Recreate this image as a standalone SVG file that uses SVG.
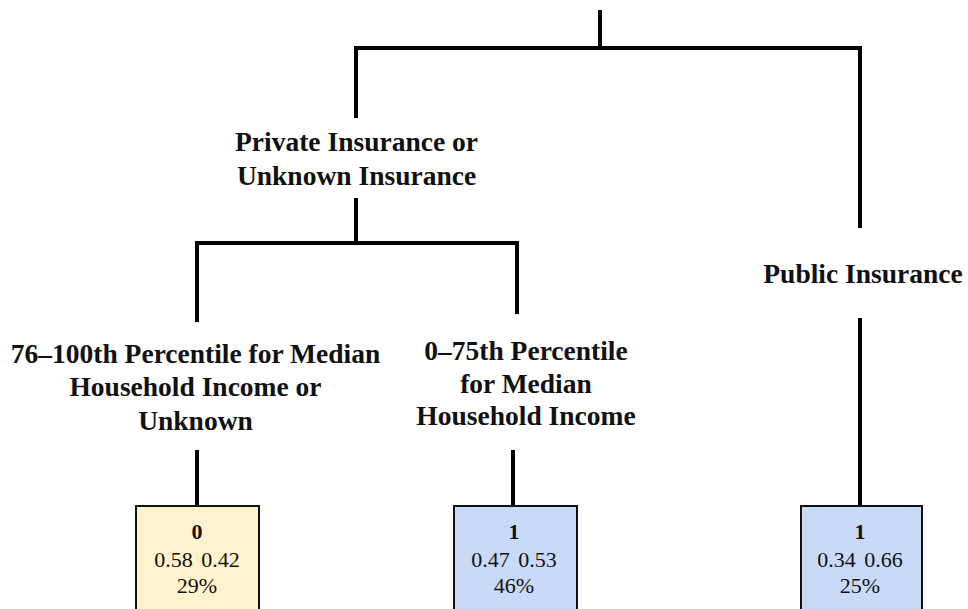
<svg xmlns="http://www.w3.org/2000/svg" width="968" height="609" viewBox="0 0 968 609">
<style>
.lbl{font-family:"Liberation Serif","Times New Roman",serif;font-weight:bold;font-size:27.5px;fill:#111;text-anchor:middle}
.bx{font-family:"Liberation Serif","Times New Roman",serif;font-size:22px;fill:#111;text-anchor:middle;word-spacing:3px}
.b{font-weight:bold}
.edge{fill:none;stroke:#000;stroke-width:4}
.node{stroke:#111;stroke-width:2}
</style>
<rect width="968" height="609" fill="#fff"/>
<g id="connectors">
<path class="edge" d="M600 10V48M356 118V48H860V228"/>
<path class="edge" d="M356 198V243M197 322V243H517V314"/>
<path class="edge" d="M860 318V507"/>
<path class="edge" d="M197 450V507"/>
<path class="edge" d="M513 450V507"/>
</g>
<g id="n-private">
<text class="lbl" x="356.5" y="151">Private Insurance or</text>
<text class="lbl" x="356.5" y="185">Unknown Insurance</text>
</g>
<g id="n-public">
<text class="lbl" x="863" y="283">Public Insurance</text>
</g>
<g id="n-high">
<text class="lbl" x="195.5" y="363">76–100th Percentile for Median</text>
<text class="lbl" x="195.5" y="396">Household Income or</text>
<text class="lbl" x="195.5" y="430">Unknown</text>
</g>
<g id="n-low">
<text class="lbl" x="526" y="360">0–75th Percentile</text>
<text class="lbl" x="526" y="393">for Median</text>
<text class="lbl" x="526" y="425">Household Income</text>
</g>
<g id="leaf1">
<rect class="node" x="136" y="506" width="123" height="110" fill="#fff2cc"/>
<text class="bx b" x="197" y="539">0</text>
<text class="bx" x="197" y="567">0.58 0.42</text>
<text class="bx" x="197" y="593">29%</text>
</g>
<g id="leaf2">
<rect class="node" x="454" y="506" width="123" height="110" fill="#c9daf8"/>
<text class="bx b" x="514" y="539">1</text>
<text class="bx" x="514" y="567">0.47 0.53</text>
<text class="bx" x="514" y="593">46%</text>
</g>
<g id="leaf3">
<rect class="node" x="801" y="506" width="121" height="110" fill="#c9daf8"/>
<text class="bx b" x="860" y="539">1</text>
<text class="bx" x="860" y="567">0.34 0.66</text>
<text class="bx" x="860" y="593">25%</text>
</g>
</svg>
